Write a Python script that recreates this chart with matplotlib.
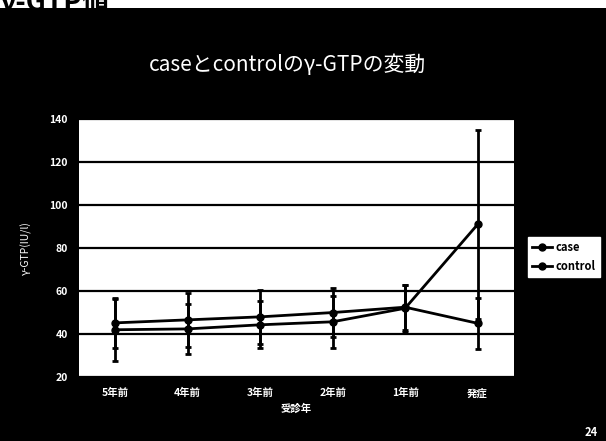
import matplotlib.pyplot as plt
from matplotlib.patches import Rectangle
from matplotlib.lines import Line2D

plt.rcParams['font.family'] = ['Noto Sans CJK JP', 'DejaVu Sans']

years = ["5年前", "4年前", "3年前", "2年前", "1年前", "発症"]
case = [42, 42.4, 44.3, 45.7, 52, 91]
case_err = [14.5, 11.7, 11, 12, 11, 44]
control = [45.2, 46.6, 48, 50, 52.5, 45]
control_err = [11.5, 12.7, 12.6, 11.6, 10.5, 12]
yticks = [20, 40, 60, 80, 100, 120, 140]

fig = plt.figure(figsize=(6.06, 4.41), dpi=100, facecolor="black")

# white strip with the cut-off slide heading at the very top
fig.patches.append(Rectangle((0, 0.982), 1, 0.02, transform=fig.transFigure,
                             facecolor="white", edgecolor="none", zorder=0))
fig.text(0.0, 0.995, "γ-GTP値", color="black", fontsize=20, fontweight="bold",
         va="center", ha="left", zorder=1)

fig.text(0.475, 0.852, "caseとcontrolのγ-GTPの変動", color="white", fontsize=15,
         ha="center", va="center")

ax = fig.add_axes([0.130, 0.145, 0.718, 0.585])
ax.set_facecolor("white")

x = range(len(years))
ax.errorbar(x, case, yerr=case_err, color="black", lw=2, marker="o", ms=5,
            capsize=2.5, capthick=2, elinewidth=2, zorder=3)
ax.errorbar(x, control, yerr=control_err, color="black", lw=2, marker="o", ms=5,
            capsize=2.5, capthick=2, elinewidth=2, zorder=3)

ax.set_ylim(20, 140)
ax.set_xlim(-0.5, len(years) - 0.5)
ax.set_yticks(yticks)
ax.set_xticks(list(x))
ax.set_xticklabels(years)
ax.yaxis.grid(True, color="black", lw=1.6)
ax.set_axisbelow(True)
for s in ax.spines.values():
    s.set_visible(False)
ax.tick_params(length=0, colors="white", labelsize=7.5, pad=8)
for lab in ax.get_xticklabels() + ax.get_yticklabels():
    lab.set_fontweight("bold")

ax.set_xlabel("受診年", color="white", fontsize=7.5, fontweight="bold", labelpad=4)
ax.set_ylabel("γ-GTP(IU/l)", color="white", fontsize=7.5, labelpad=12)

handles = [Line2D([], [], color="black", lw=2, marker="o", ms=5),
           Line2D([], [], color="black", lw=2, marker="o", ms=5)]
leg = fig.legend(handles, ["case", "control"], loc="center left",
                 bbox_to_anchor=(0.862, 0.417), fontsize=8, frameon=True,
                 fancybox=False, handlelength=1.8, borderpad=0.4,
                 labelspacing=0.5, handletextpad=0.3)
leg.get_frame().set_facecolor("white")
leg.get_frame().set_edgecolor("white")
leg.get_frame().set_alpha(1)
for t in leg.get_texts():
    t.set_fontweight("bold")

fig.text(0.975, 0.005, "24", color="white", fontsize=8, fontweight="bold",
         ha="center", va="bottom")

fig.savefig("out.png", dpi=100, facecolor=fig.get_facecolor())
